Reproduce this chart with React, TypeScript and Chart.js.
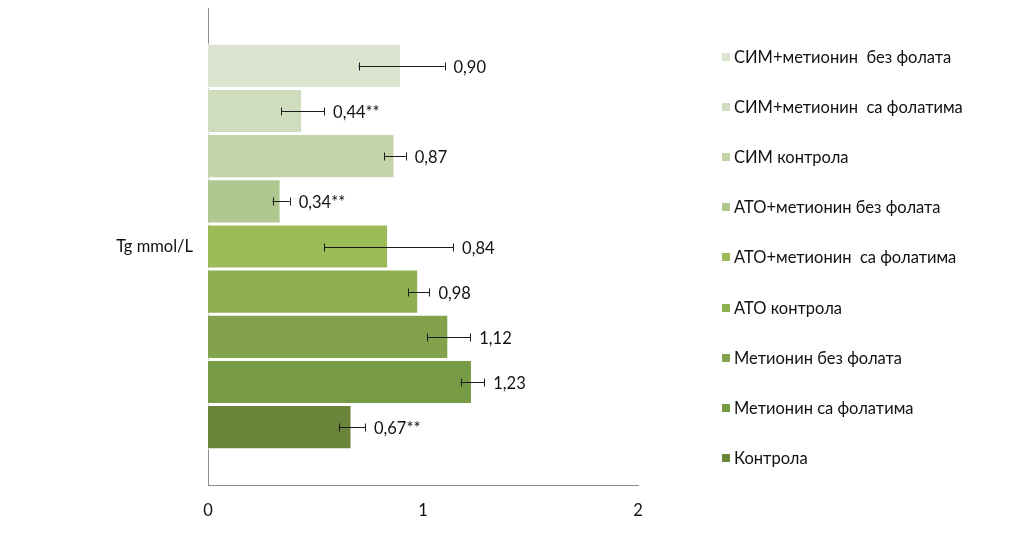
import React, { useEffect, useRef } from "react";
import { Chart, registerables } from "chart.js";

Chart.register(...registerables);

const categories = ["Tg mmol/L"];
const seriesNames = [
  "СИМ+метионин  без фолата",
  "СИМ+метионин  са фолатима",
  "СИМ контрола",
  "АТО+метионин без фолата",
  "АТО+метионин  са фолатима",
  "АТО контрола",
  "Метионин без фолата",
  "Метионин са фолатима",
  "Контрола",
];
const seriesValues = [0.9, 0.44, 0.87, 0.34, 0.84, 0.98, 1.12, 1.23, 0.67];
const seriesErrors = [0.2, 0.1, 0.05, 0.04, 0.3, 0.05, 0.1, 0.055, 0.06];
const valueLabels = ["0,90", "0,44**", "0,87", "0,34**", "0,84", "0,98", "1,12", "1,23", "0,67**"];
const seriesColors = [
  "#dbe4cf",
  "#cfdcbe",
  "#c2d4a8",
  "#afc890",
  "#9cbb59",
  "#8fb052",
  "#82a24b",
  "#779a45",
  "#6a843a",
];
const xTicks = ["0", "1", "2"];

const FONT = "Lato, 'Open Sans', sans-serif";
const FSIZE = 16.5;

const errorBarPlugin = {
  id: "errorBars",
  afterDatasetsDraw(chart: any) {
    const ctx = chart.ctx;
    const xScale = chart.scales.x;
    ctx.save();
    chart.data.datasets.forEach((ds: any, i: number) => {
      const meta = chart.getDatasetMeta(i);
      meta.data.forEach((bar: any, j: number) => {
        const v = ds.data[j];
        const e = seriesErrors[i];
        const x0 = xScale.getPixelForValue(v - e);
        const x1 = xScale.getPixelForValue(v + e);
        const y = Math.round(bar.y) + 0.5;
        ctx.strokeStyle = "#1a1a1a";
        ctx.lineWidth = 1;
        ctx.beginPath();
        ctx.moveTo(x0, y);
        ctx.lineTo(x1, y);
        ctx.moveTo(Math.round(x0) + 0.5, y - 4);
        ctx.lineTo(Math.round(x0) + 0.5, y + 4);
        ctx.moveTo(Math.round(x1) + 0.5, y - 4);
        ctx.lineTo(Math.round(x1) + 0.5, y + 4);
        ctx.stroke();
        ctx.fillStyle = "#111";
        ctx.font = `${FSIZE}px ${FONT}`;
        ctx.textAlign = "left";
        ctx.textBaseline = "middle";
        ctx.fillText(valueLabels[i], x1 + 9, y + 1);
      });
    });
    ctx.restore();
  },
};

export default function App() {
  const ref = useRef<HTMLCanvasElement | null>(null);

  useEffect(() => {
    if (!ref.current) return;
    const chart = new Chart(ref.current, {
      type: "bar",
      data: {
        labels: categories,
        datasets: seriesNames.map((name, i) => ({
          label: name,
          data: [seriesValues[i]],
          backgroundColor: seriesColors[i],
          borderColor: "rgba(255,255,255,0.9)",
          borderWidth: 1.5,
          categoryPercentage: 0.852,
          barPercentage: 1,
        })),
      },
      options: {
        indexAxis: "y",
        responsive: false,
        animation: false,
        layout: { autoPadding: false, padding: { top: 8, right: 385, bottom: 0, left: 0 } },
        plugins: {
          legend: { display: false },
          tooltip: { enabled: false },
        },
        scales: {
          x: {
            min: 0,
            max: 2,
            afterBuildTicks: (scale: any) => {
              scale.ticks = xTicks.map((t) => ({ value: Number(t) }));
            },
            grid: { display: false, drawTicks: false },
            border: { display: true, color: "#8c8c8c", width: 1 },
            ticks: {
              padding: 16,
              color: "#111",
              font: { family: FONT, size: FSIZE },
              callback: (v: any) => String(v),
            },
            afterFit: (scale: any) => {
              scale.height = 56;
              scale.paddingLeft = 0;
              scale.paddingRight = 0;
            },
          },
          y: {
            grid: { display: false, drawTicks: false },
            border: { display: true, color: "#8c8c8c", width: 1 },
            ticks: {
              padding: 15,
              color: "#111",
              font: { family: FONT, size: FSIZE },
            },
            afterFit: (scale: any) => {
              scale.width = 208;
              scale.paddingTop = 0;
              scale.paddingBottom = 0;
            },
          },
        },
      },
      plugins: [errorBarPlugin],
    });
    return () => chart.destroy();
  }, []);

  return (
    <div style={{ position: "absolute", left: 0, top: 0, width: 1023, height: 541, background: "#fff" }}>
      <canvas ref={ref} width={1023} height={541} style={{ position: "absolute", left: 0, top: 0 }} />
      <div style={{ position: "absolute", left: 722, top: 32, fontFamily: FONT, fontSize: FSIZE, color: "#111" }}>
        {seriesNames.map((name, i) => (
          <div key={name} style={{ height: 50.1, display: "flex", alignItems: "center", whiteSpace: "pre" }}>
            <span style={{ display: "inline-block", width: 8, height: 8, background: seriesColors[i], marginRight: 4 }} />
            <span>{name}</span>
          </div>
        ))}
      </div>
    </div>
  );
}
